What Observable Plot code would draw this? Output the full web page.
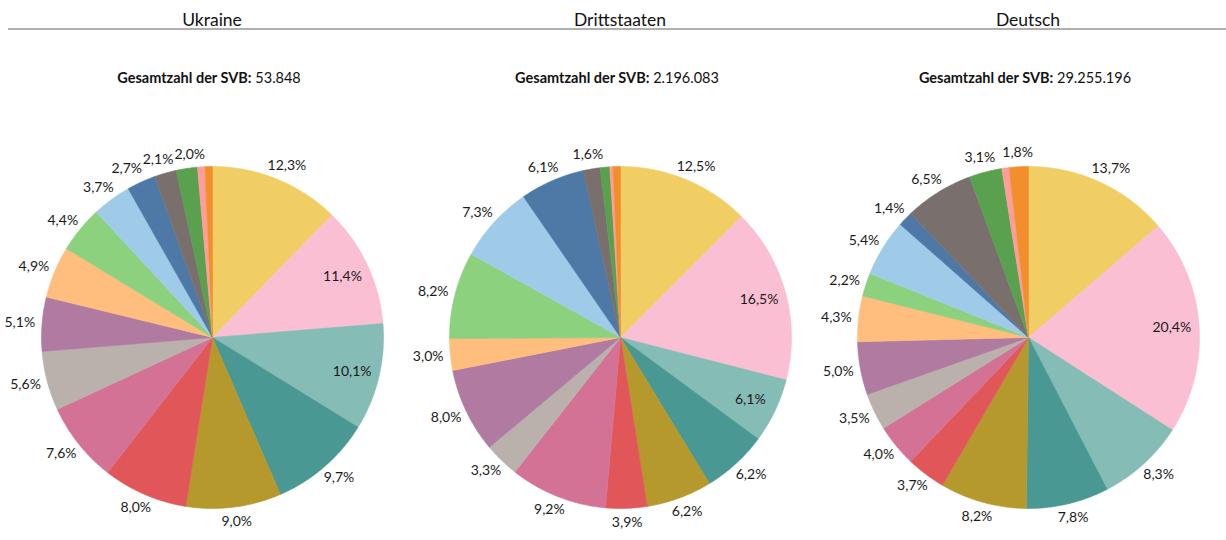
<!DOCTYPE html>
<html>
<head>
<meta charset="utf-8">
<script src="https://cdn.jsdelivr.net/npm/d3@7"></script>
<script src="https://cdn.jsdelivr.net/npm/@observablehq/plot@0.6"></script>
<style>
  html, body { margin: 0; padding: 0; background: #fff; }
  #wrap { position: relative; width: 1226px; height: 540px; font-family: Lato, "Open Sans", sans-serif; color: #111; }
  .title { position: absolute; top: 8px; height: 24px; line-height: 24px; width: 300px; margin-left: -150px; text-align: center; font-size: 17.5px; }
  .rule { position: absolute; top: 28px; left: 8px; width: 1218px; height: 2px; background: #b0b0b0; }
  .sub { position: absolute; top: 69px; height: 18px; line-height: 18px; width: 320px; margin-left: -160px; text-align: center; font-size: 14.5px; }
  .sub b { font-weight: 700; }
  #chart { position: absolute; top: 100px; left: 0; }
</style>
</head>
<body>
<div id="wrap"><div class="rule"></div><div id="chart"></div></div>
<script>
const groups = ["Ukraine", "Drittstaaten", "Deutsch"];
const totals = ["53.848", "2.196.083", "29.255.196"];
const categories = ["Kategorie 1","Kategorie 2","Kategorie 3","Kategorie 4","Kategorie 5","Kategorie 6","Kategorie 7","Kategorie 8","Kategorie 9","Kategorie 10","Kategorie 11","Kategorie 12","Kategorie 13","Kategorie 14","Kategorie 15","Kategorie 16","Kategorie 17"];
const colors = ["#F1CE63","#FABFD2","#86BCB6","#499894","#B6992D","#E15759","#D37295","#BAB0AC","#B07AA1","#FFBE7D","#8CD17D","#A0CBE8","#4E79A7","#79706E","#59A14F","#FF9D9A","#F28E2B"];
const ukraine      = [12.3, 11.4, 10.1, 9.7, 9.0, 8.0, 7.6, 5.6, 5.1, 4.9, 4.4, 3.7, 2.7, 2.1, 2.0, 0.7, 0.7];
const drittstaaten = [12.5, 16.5, 6.1, 6.2, 6.2, 3.9, 9.2, 3.3, 8.0, 3.0, 8.2, 7.3, 6.1, 1.6, 0.9, 0.3, 0.7];
const deutsch      = [13.7, 20.4, 8.3, 7.8, 8.2, 3.7, 4.0, 3.5, 5.0, 4.3, 2.2, 5.4, 1.4, 6.5, 3.1, 0.7, 1.8];
const series = [ukraine, drittstaaten, deutsch];

// layout constants
const W = 1226, H = 440;
const centersX = [212, 620, 1028];
const cy = 237;
const R = 171;
const FS = 14;
const FONT = FS + "px Lato";

const wrap = document.getElementById("wrap");
groups.forEach((g, i) => {
  const t = document.createElement("div");
  t.className = "title"; t.style.left = centersX[i] + "px"; t.textContent = g;
  wrap.appendChild(t);
  const s = document.createElement("div");
  s.className = "sub"; s.style.left = (centersX[i] - 3) + "px";
  s.innerHTML = "<b>Gesamtzahl der SVB:</b> " + totals[i];
  wrap.appendChild(s);
});

const ctx = document.createElement("canvas").getContext("2d");
ctx.font = FONT;
const fmt = v => v.toFixed(1).replace(".", ",") + "%";

const pie = d3.pie().sort(null).value(d => d).startAngle(0).endAngle(2 * Math.PI);
const poly = [];
const labels = [];
series.forEach((vals, gi) => {
  const cx = centersX[gi];
  const outside = [];
  pie(vals).forEach((a, k) => {
    const key = groups[gi] + "|" + k;
    poly.push({key, cat: categories[k], x: cx, y: cy});
    const steps = Math.max(2, Math.ceil((a.endAngle - a.startAngle) / (Math.PI / 360)));
    for (let s = 0; s <= steps; s++) {
      const t = a.startAngle + (a.endAngle - a.startAngle) * s / steps;
      poly.push({key, cat: categories[k], x: cx + R * Math.sin(t), y: cy - R * Math.cos(t)});
    }
    poly.push({key, cat: categories[k], x: cx, y: cy});
    if (a.value >= 1.0) {
      const mid = (a.startAngle + a.endAngle) / 2;
      const deg = mid * 180 / Math.PI;
      const inside = deg > 50 && deg < 130;
      const text = fmt(a.value);
      const w = ctx.measureText(text).width;
      const sx = Math.sin(mid), sy = -Math.cos(mid);
      if (inside) {
        const rr = R * 0.84;
        labels.push({x: cx + rr * sx, y: cy + rr * sy, text});
      } else {
        const rr = R + 7;
        const lab = {x: cx + rr * sx + sx * w / 2, y: cy + rr * sy + sy * 7.5, text, w};
        outside.push(lab);
        labels.push(lab);
      }
    }
  });
  // simple collision resolution between neighbouring outside labels
  for (let pass = 0; pass < 3; pass++) {
    for (let i = 0; i < outside.length - 1; i++) {
      const A = outside[i], B = outside[i + 1];
      const needX = (A.w + B.w) / 2 + 1;
      const dx = B.x - A.x, dy = B.y - A.y;
      if (Math.abs(dx) < needX && Math.abs(dy) < FS) {
        const over = needX - Math.abs(dx);
        const s = dx >= 0 ? 1 : -1;
        A.x -= s * over / 2; B.x += s * over / 2;
      }
    }
  }
});

const chart = Plot.plot({
  width: W, height: H, margin: 0,
  x: {domain: [0, W], range: [0, W], axis: null},
  y: {domain: [0, H], range: [0, H], axis: null},
  color: {domain: categories, range: colors},
  style: {fontFamily: "Lato, 'Open Sans', sans-serif", background: "transparent"},
  marks: [
    Plot.line(poly, {x: "x", y: "y", z: "key", fill: "cat", stroke: "cat", strokeWidth: 0.6, curve: "linear"}),
    Plot.text(labels, {x: "x", y: "y", text: "text", fontSize: FS, fill: "#1a1a1a"})
  ]
});
document.getElementById("chart").appendChild(chart);
</script>
</body>
</html>
